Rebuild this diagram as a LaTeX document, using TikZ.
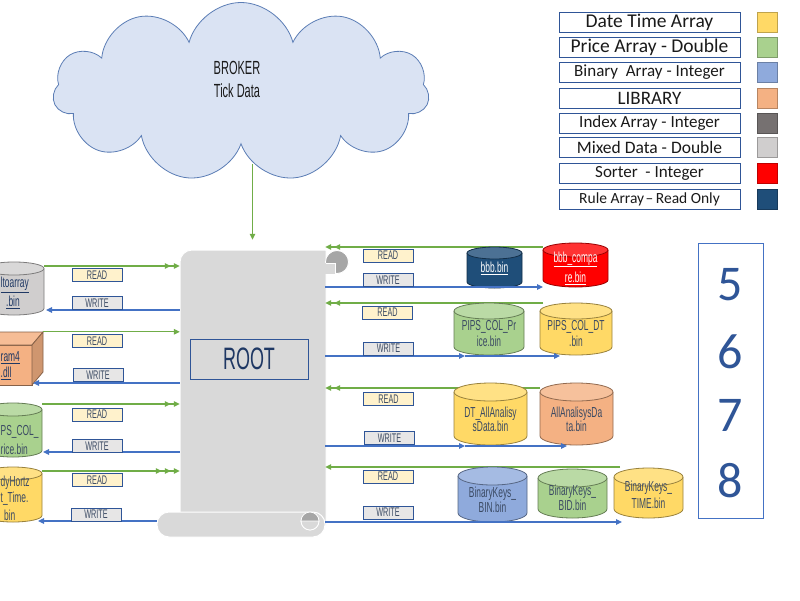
\documentclass[tikz,border=0pt]{standalone}
\usepackage{fontspec}
\setmainfont{Carlito}
\newfontfamily\condfont[FakeStretch=0.58]{Liberation Sans}
\usetikzlibrary{arrows.meta,shapes.symbols}
\definecolor{cgreen}{HTML}{A9D18E}
\definecolor{cyellow}{HTML}{FFD966}
\definecolor{cblue}{HTML}{8FAADC}
\definecolor{corange}{HTML}{F4B183}
\definecolor{cdgray}{HTML}{767171}
\definecolor{clgray}{HTML}{D0CECE}
\definecolor{cred}{HTML}{FF0000}
\definecolor{cnavy}{HTML}{1F4E79}
\definecolor{lgreen}{HTML}{70AD47}
\definecolor{lblue}{HTML}{4472C4}
\definecolor{bordblue}{HTML}{2F5597}
\definecolor{readfill}{HTML}{FFF2CC}
\definecolor{writefill}{HTML}{E7E6E6}
\definecolor{scrollc}{HTML}{D9D9D9}
\definecolor{curlc}{HTML}{A6A6A6}
\definecolor{cloudfill}{HTML}{DAE3F3}
\definecolor{cloudline}{HTML}{5B7DB5}
\definecolor{txtdark}{HTML}{3B4A63}
\definecolor{rootnavy}{HTML}{1F3864}
\definecolor{legtxt}{HTML}{1A1A1A}

\newcommand{\dbcyl}[7]{%
  \pgfmathsetmacro\cxc{(#2+#4)/2}%
  \pgfmathsetmacro\crx{(#4-#2)/2}%
  \pgfmathsetmacro\cyt{#3+#6}%
  \pgfmathsetmacro\cyb{#5-#6}%
  \pgfmathsetmacro\cw{#4-#2}%
  \pgfmathsetmacro\ch{#5-#3}%
  \pgfmathsetmacro\cyc{(#3+#5)/2}%
  \path[fill=#7, draw=#7!60!black, line width=0.8pt] (#2,\cyt) -- (#2,\cyb)
     arc[start angle=180, end angle=360, x radius=\crx pt, y radius=#6 pt] -- (#4,\cyt);
  \path[fill=#7!80!white, draw=#7!60!black, line width=0.8pt] (\cxc,\cyt)
     ellipse[x radius=\crx pt, y radius=#6 pt];
  \node[inner sep=0pt, minimum width=\cw pt, minimum height=\ch pt] (#1) at (\cxc,\cyc) {};
}

\begin{document}
\begin{tikzpicture}[x=1pt,y=-1pt,
  gline/.style={draw=lgreen, line width=1.1pt},
  bline/.style={draw=lblue, line width=1.1pt},
  tipA/.style={-{Triangle[length=6pt,width=5.5pt]}},
  tipAA/.style={-{Triangle[length=6pt,width=5.5pt,sep=3pt]Triangle[length=6pt,width=5.5pt]}},
  tipAAA/.style={-{Triangle[length=6pt,width=5.5pt,sep=3pt]Triangle[length=6pt,width=5.5pt,sep=3pt]Triangle[length=6pt,width=5.5pt]}},
  rdbox/.style={draw=bordblue, line width=0.8pt, fill=readfill, inner sep=0pt,
     minimum width=50pt, minimum height=13pt, text=txtdark,
     font=\condfont\fontsize{12.5}{12}\selectfont},
  wrbox/.style={rdbox, fill=writefill},
  cyltxt/.style={font=\condfont\fontsize{14.5}{#1}\selectfont, align=center, inner sep=0pt, text=txtdark},
  cyltxt/.default=15,
  legbox/.style={draw=bordblue, line width=0.8pt, fill=white, minimum width=181pt,
     minimum height=20pt, inner sep=0pt, text=legtxt},
  swatch/.style={minimum width=20pt, minimum height=20pt, inner sep=0pt, line width=0.6pt},
  numtxt/.style={inner sep=0pt, text=bordblue, font=\fontsize{50}{50}\selectfont}
]
\useasboundingbox (0,0) rectangle (800,600);
\fill[white] (0,0) rectangle (800,600);

% cloud
\node[cloud, cloud puffs=11, aspect=2.1, draw=cloudline, fill=cloudfill, line width=0.8pt,
      minimum width=376pt, minimum height=179pt, inner sep=0pt] (cloud) at (241,92) {};
\node[align=center, inner sep=0pt, font=\condfont\fontsize{19}{23}\selectfont, text=legtxt]
      (brokertxt) at (237,79) {BROKER\\Tick Data};
\coordinate (cloudbot) at (252.5,164);

% scroll (ROOT)
\path[fill=scrollc, draw=white, line width=1pt] (180,525) [rounded corners=12pt] -- (180,250)
      [sharp corners] -- (326,250) -- (326,525) -- cycle;
\path[fill=curlc, draw=white, line width=0.8pt] (337,262) circle (11.5pt);
\fill[scrollc] (324.5,263) rectangle (335,274);
\draw[white, line width=0.9pt] (325.5,263) -- (335,263) -- (335,274);
\path[fill=scrollc, draw=white, line width=1pt, rounded corners=12pt] (157,512) rectangle (325,537);
\path[fill=curlc, draw=white, line width=0.8pt] (310,521) circle (9pt);
\path[fill=scrollc, draw=white, line width=0.8pt] (301,521) arc[start angle=180, end angle=360, radius=9pt] -- cycle;
\node[inner sep=0pt, minimum width=145pt, minimum height=275pt] (root) at (252.5,387.5) {};
\node[inner sep=0pt, minimum width=168pt, minimum height=25pt] (rootbar) at (241,524.5) {};
\node[draw=bordblue, line width=0.9pt, minimum width=118pt, minimum height=40pt, inner sep=0pt,
      text=rootnavy, font=\condfont\fontsize{31}{31}\selectfont] (rootlbl) at (249,359) {ROOT};

\draw[gline, tipA] (cloudbot) -- ([yshift=10pt]root.north);

% coordinates of line ends
\coordinate (l1g) at (44,266);  \coordinate (l1b) at (46,310);
\coordinate (l2b) at (33,383);
\coordinate (l3g) at (42,404);  \coordinate (l3b) at (43,452);
\coordinate (l4g) at (42,471);  \coordinate (l4b) at (38,521);
\coordinate (r1g) at (543,247); \coordinate (r1b) at (543,287);
\coordinate (r2g) at (543,303); \coordinate (r2m) at (465,356); \coordinate (r2b) at (560,356);
\coordinate (r3g) at (540,388); \coordinate (r3m) at (465,446); \coordinate (r3b) at (567,446);
\coordinate (r4g) at (620,467); \coordinate (r4b) at (622,522);

% library cube (left)
\path[fill=corange, draw=corange!55!black, line width=0.8pt] (-40,345) rectangle (32,385);
\path[fill=corange!85!white, draw=corange!55!black, line width=0.8pt] (-40,345) -- (-29,332) -- (43,332) -- (32,345) -- cycle;
\path[fill=corange!85!black, draw=corange!55!black, line width=0.8pt] (32,345) -- (43,332) -- (43,372) -- (32,385) -- cycle;
\node[inner sep=0pt, minimum width=83pt, minimum height=53pt] (lib) at (1.5,358.5) {};

% green (read) lines
\draw[gline, tipAA] (l1g) -- (root.west |- l1g);
\draw[gline, tipA] (lib.north east) -- (root.west |- lib.north east);
\draw[gline, tipAA] (l3g) -- (root.west |- l3g);
\draw[gline, tipAAA] (l4g) -- (root.west |- l4g);
\draw[gline, tipAA] (r1g) -- (root.east |- r1g);
\draw[gline, tipAA] (r2g) -- (root.east |- r2g);
\draw[gline, tipAA] (r3g) -- (root.east |- r3g);
\draw[gline, tipA] (r4g) -- (root.east |- r4g);

% cylinders
\dbcyl{c1}{-16}{262}{44}{315}{6.5}{clgray}
\dbcyl{c3}{-16}{403}{42}{457}{6.5}{cgreen}
\dbcyl{c4}{-16}{467}{42}{522}{6.5}{cyellow}
\dbcyl{bbb}{467}{247}{522}{288}{6}{cnavy}
\dbcyl{bbbc}{543}{243}{608}{287}{7}{cred}
\dbcyl{pipsp}{454}{303}{524}{355}{8}{cgreen}
\dbcyl{pipsdt}{540}{303}{612}{355}{8}{cyellow}
\dbcyl{dtall}{454}{383}{527}{445}{9}{cyellow}
\dbcyl{allan}{540}{383}{613}{445}{9}{corange}
\dbcyl{bkbin}{458}{467}{527}{522}{9}{cblue}
\dbcyl{bkbid}{538}{469}{607}{518}{9}{cgreen}
\dbcyl{bktime}{614}{468}{683}{518}{9}{cyellow}

% blue (write) lines
\draw[bline, tipA] (root.west |- l1b) -- (l1b);
\draw[bline, tipA] (root.west |- l2b) -- (l2b);
\draw[bline, tipA] (root.west |- l3b) -- (l3b);
\draw[bline, tipA] (rootbar.west |- l4b) -- (l4b);
\draw[bline, tipA] (root.east |- r1b) -- (r1b);
\draw[bline, tipA] (root.east |- r2m) -- (r2m);
\draw[bline, tipA] (r2m) -- (r2b);
\draw[bline, tipA] (root.east |- r3m) -- (r3m);
\draw[bline, tipA] (r3m) -- (r3b);
\draw[bline, tipA] (rootbar.east |- r4b) -- (r4b);

% cylinder texts
\node[cyltxt, anchor=west, text=rootnavy] (t1a) at (0.5,285) {\underline{ltoarray}};
\node[cyltxt, anchor=west, text=rootnavy] (t1b) at (6,302) {\underline{.bin}};
\node[cyltxt, anchor=west, text=rootnavy] (t2a) at (0.5,358) {\underline{ram4}};
\node[cyltxt, anchor=west, text=rootnavy] (t2b) at (0.5,373) {\underline{.dll}};
\node[cyltxt, anchor=west] (t3a) at (0.5,432) {PS\_COL\_};
\node[cyltxt, anchor=west] (t3b) at (0.5,449) {rice.bin};
\node[cyltxt, anchor=west] (t4a) at (0.5,483) {dyHortz};
\node[cyltxt, anchor=west] (t4b) at (0.5,499) {t\_Time.};
\node[cyltxt, anchor=west] (t4c) at (4,515) {bin};
\node[cyltxt, text=white] (tbbb) at (494.5,268) {\underline{bbb.bin}};
\node[cyltxt=20, text=white] (tbbbc) at (575.5,268) {\underline{bbb\_compa}\\\underline{re.bin}};
\node[cyltxt=16] (tpipsp) at (489,334) {PIPS\_COL\_Pr\\ice.bin};
\node[cyltxt=16] (tpipsdt) at (576,334) {PIPS\_COL\_DT\\.bin};
\node[cyltxt=13.5] (tdtall) at (490.5,419.5) {DT\_AllAnalisy\\sData.bin};
\node[cyltxt=13.5] (tallan) at (576.5,419.5) {AllAnalisysDa\\ta.bin};
\node[cyltxt=15] (tbkbin) at (492.5,499.5) {BinaryKeys\_\\BIN.bin};
\node[cyltxt=15] (tbkbid) at (572.5,497.5) {BinaryKeys\_\\BID.bin};
\node[cyltxt=17] (tbktime) at (648.5,495) {BinaryKeys\_\\TIME.bin};

% READ / WRITE labels
\node[rdbox] (rd1) at (97,275) {READ};
\node[wrbox] (wr1) at (97,303) {WRITE};
\node[rdbox] (rd2) at (97,341) {READ};
\node[wrbox] (wr2) at (98,375) {WRITE};
\node[rdbox] (rd3) at (97,414.5) {READ};
\node[wrbox] (wr3) at (97,446) {WRITE};
\node[rdbox] (rd4) at (97,480) {READ};
\node[wrbox] (wr4) at (96,514.5) {WRITE};
\node[rdbox] (rd5) at (388,255.5) {READ};
\node[wrbox] (wr5) at (388,280) {WRITE};
\node[rdbox] (rd6) at (387.5,312.5) {READ};
\node[wrbox] (wr6) at (388.5,348.5) {WRITE};
\node[rdbox] (rd7) at (388.5,399) {READ};
\node[wrbox] (wr7) at (389.5,438) {WRITE};
\node[rdbox] (rd8) at (388,476.5) {READ};
\node[wrbox] (wr8) at (388,512.5) {WRITE};

% number box
\node[draw=lblue, line width=0.8pt, minimum width=65pt, minimum height=275pt, inner sep=0pt] (numbox) at (730.5,380.5) {};
\node[numtxt] (n5) at (730.5,285) {5};
\node[numtxt] (n6) at (730.5,352) {6};
\node[numtxt] (n7) at (730.5,415) {7};
\node[numtxt] (n8) at (730.5,481) {8};

% legend
\node[legbox, font=\fontsize{19.5}{20}\selectfont] (lg1) at (649.5,22) {Date Time Array};
\node[legbox, font=\fontsize{19.5}{20}\selectfont] (lg2) at (649.5,47) {Price Array - Double};
\node[legbox, font=\fontsize{17}{20}\selectfont] (lg3) at (649.5,72.5) {Binary\ \ Array - Integer};
\node[legbox, font=\fontsize{19}{20}\selectfont] (lg4) at (649.5,98) {LIBRARY};
\node[legbox, font=\fontsize{17}{20}\selectfont] (lg5) at (649.5,123) {Index Array - Integer};
\node[legbox, font=\fontsize{17.5}{20}\selectfont] (lg6) at (649.5,147.5) {Mixed Data - Double};
\node[legbox, font=\fontsize{17}{20}\selectfont] (lg7) at (649.5,173) {Sorter\ \ - Integer};
\node[legbox, font=\fontsize{15.5}{20}\selectfont] (lg8) at (649.5,199.5) {Rule Array \hspace{-2pt}–\hspace{-1pt} Read Only};
\node[swatch, fill=cyellow, draw=cyellow!75!black] (sw1) at (767,22) {};
\node[swatch, fill=cgreen, draw=cgreen!75!black] (sw2) at (767,47) {};
\node[swatch, fill=cblue, draw=cblue!75!black] (sw3) at (767,72.5) {};
\node[swatch, fill=corange, draw=corange!75!black] (sw4) at (767,98) {};
\node[swatch, fill=cdgray, draw=cdgray!75!black] (sw5) at (767,123) {};
\node[swatch, fill=clgray, draw=clgray!75!black] (sw6) at (767,147.5) {};
\node[swatch, fill=cred, draw=cred!75!black] (sw7) at (767,173) {};
\node[swatch, fill=cnavy, draw=cnavy!75!black] (sw8) at (767,199.5) {};
\end{tikzpicture}
\end{document}
